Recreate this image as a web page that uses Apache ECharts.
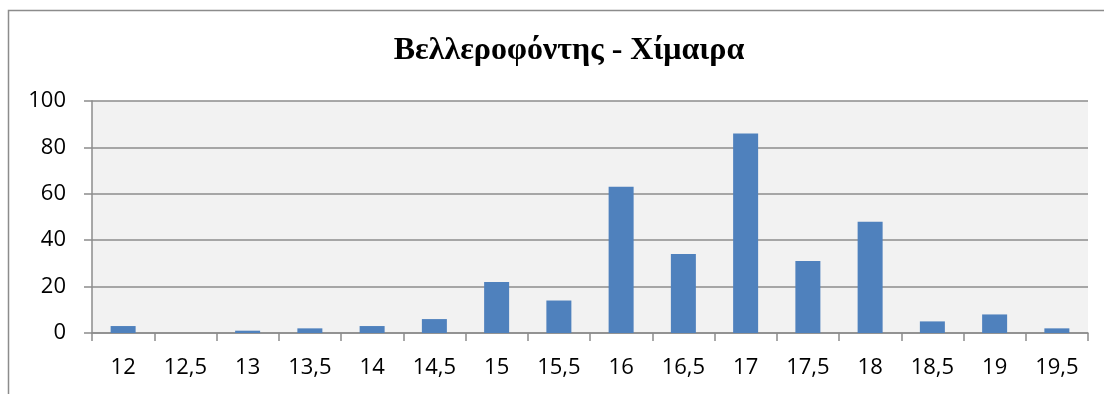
<!DOCTYPE html>
<html><head><meta charset="utf-8">
<script src="https://cdn.jsdelivr.net/npm/echarts@6/dist/echarts.min.js"></script>
<style>html,body{margin:0;padding:0;background:#fff}#c{width:1104px;height:394px}</style>
</head><body><div id="c"></div>
<script>
const title = "Βελλεροφόντης - Χίμαιρα";
const categories = ["12","12,5","13","13,5","14","14,5","15","15,5","16","16,5","17","17,5","18","18,5","19","19,5"];
const values = [3,0,1,2,3,6,22,14,63,34,86,31,48,5,8,2];
const yTicks = [0,20,40,60,80,100];

const chart = echarts.init(document.getElementById('c'), null, {renderer:'canvas'});
chart.setOption({
  animation:false,
  backgroundColor:'#fff',
  title:{text:title,left:564,top:30,textAlign:'center',
    textStyle:{fontFamily:'Liberation Serif',fontWeight:'bold',fontSize:32,color:'#000'}},
  graphic:[{type:'rect',shape:{x:8.5,y:10.5,width:1110,height:400},
    style:{fill:'none',stroke:'#8c8c8c',lineWidth:1.5},z:-1}],
  grid:{left:92,right:16,top:101,bottom:61,show:true,backgroundColor:'#f2f2f2',borderWidth:0},
  xAxis:{type:'category',data:categories,boundaryGap:true,
    axisLine:{lineStyle:{color:'#8c8c8c',width:1.5}},
    axisTick:{show:true,alignWithLabel:false,length:8,lineStyle:{color:'#8c8c8c',width:1.5}},
    axisLabel:{fontFamily:'Open Sans',fontSize:22,color:'#000',margin:24,interval:0}},
  yAxis:{type:'value',min:yTicks[0],max:yTicks[yTicks.length-1],interval:20,
    axisLine:{show:true,lineStyle:{color:'#8c8c8c',width:1.5}},
    axisTick:{show:true,length:8,lineStyle:{color:'#8c8c8c',width:1.5}},
    splitLine:{lineStyle:{color:'#8c8c8c',width:1.5}},
    axisLabel:{fontFamily:'Open Sans',fontSize:22,color:'#000',margin:26}},
  series:[{type:'bar',data:values,barWidth:25,
    itemStyle:{color:'#4f81bd'}}]
});
</script></body></html>
